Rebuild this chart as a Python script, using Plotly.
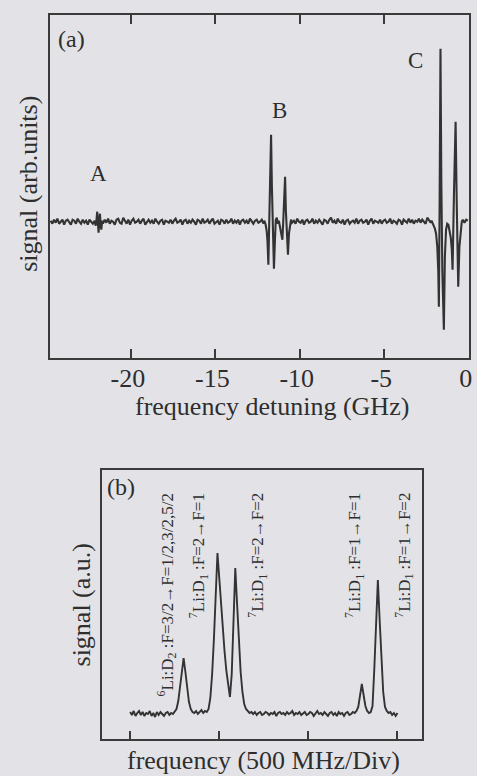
import numpy as np
import plotly.graph_objects as go

# ---------------- Panel (a): frequency detuning (GHz) vs signal (arb. units) ----------------
# baseline segments (0.1 GHz sampling)
a_seg1_x0, a_seg1_y = -24.75, [0.1,-0.2,0.2,-0.1,0.3,-0.2,0.0,0.2,-0.3,0.1,0.2,-0.1,-0.3,0.2,0.1,-0.2,0.3,0.0,-0.2,0.2,-0.1,0.1,-0.3,0.2,0.0,-0.2]
# feature A
a_A_x = [-22.15,-22.08,-22.03,-21.99,-21.95,-21.91,-21.87,-21.83,-21.79,-21.75,-21.70,-21.65]
a_A_y = [0.1,-0.4,0.3,1.0,-0.2,-1.1,0.2,0.8,-0.3,-0.8,0.1,-0.2]
a_seg2_x0, a_seg2_y = -21.55, [
    0.2,-0.1,0.3,-0.2,0.1,0.0,-0.3,0.2,0.3,-0.1,
    -0.2,0.4,0.1,-0.2,0.2,-0.3,0.1,0.3,-0.1,0.0,
    0.2,-0.2,0.1,0.3,-0.3,0.0,0.2,-0.1,0.1,-0.2,
    0.3,0.0,-0.2,0.1,0.2,-0.3,0.1,0.0,-0.1,0.2,
    -0.2,0.1,0.3,-0.1,0.0,0.2,-0.3,0.1,0.2,-0.2,
    0.1,-0.1,0.2,0.0,-0.3,0.2,0.1,-0.2,0.3,-0.1,
    0.0,0.2,-0.2,0.1,0.3,-0.2,0.0,0.1,-0.3,0.2,
    0.1,-0.2,0.2,-0.1,0.0,0.3,-0.2,0.1,-0.1,0.2,
    -0.3,0.1,0.2,-0.1,0.1,-0.2,0.3,0.0,-0.2,0.1,
    0.2,-0.1,0.0,0.2,-0.2]
# feature B
a_B_x = [-12.10,-12.02,-11.96,-11.91,-11.86,-11.80,-11.75,-11.70,-11.65,-11.59,-11.53,-11.47,-11.42,-11.36,-11.30,
         -11.24,-11.18,-11.12,-11.07,-11.03,-10.98,-10.92,-10.87,-10.82,-10.76,-10.70,-10.64,-10.58,-10.52,-10.46]
a_B_y = [0.1,-0.3,-0.9,-2.0,-4.3,0.5,5.0,8.7,3.5,-1.5,-4.7,-1.8,0.2,0.4,-0.2,
         0.1,-0.4,-0.9,-1.5,-1.8,0.0,3.0,4.5,1.0,-1.8,-3.3,-1.2,-0.2,0.2,-0.1]
a_seg3_x0, a_seg3_y = -10.35, [
    0.1,-0.2,0.3,0.0,-0.1,0.2,-0.3,0.1,0.2,-0.1,
    0.0,0.3,-0.2,0.1,-0.1,0.2,0.0,-0.3,0.2,0.1,
    -0.2,0.2,0.4,-0.1,0.1,-0.2,0.3,0.0,-0.1,0.2,
    -0.3,0.1,0.2,-0.2,0.0,0.1,-0.1,0.3,-0.2,0.1,
    0.2,-0.1,0.0,0.2,-0.3,0.1,0.3,-0.2,0.1,0.0,
    -0.1,0.2,-0.2,0.1,0.2,-0.1,0.0,0.3,-0.2,0.1,
    0.0,-0.2,0.2,0.1,-0.3,0.2,0.0,-0.1,0.3,-0.1,
    0.2,-0.2,0.1,0.0,0.3,-0.1,0.2,0.0,-0.2,0.4,
    0.1,-0.1]
# feature C
a_C_x = [-2.20,-2.10,-2.00,-1.93,-1.86,-1.80,-1.765,-1.72,-1.67,-1.62,-1.56,-1.47,-1.41,-1.34,-1.27,
         -1.20,-1.13,-1.06,-1.00,-0.955,-0.87,-0.775,-0.71,-0.62,-0.55,-0.48,-0.41]
a_C_y = [0.1,-0.3,-0.7,-1.2,-2.5,-5.0,-8.5,2.0,17.3,4.0,-5.0,-10.8,-3.5,-0.8,-0.2,
         -0.3,-0.8,-1.6,-2.8,-4.8,3.0,10.0,2.0,-6.5,-2.5,-0.7,0.0]
a_tail_x = [-0.35,-0.25,-0.15,-0.05]
a_tail_y = [0.2,-0.1,0.2,0.1]

a_ticks = [-20, -15, -10, -5, 0]
a_ticktext = ["-20", "-15", "-10", "-5", "0"]

# ---------------- Panel (b): frequency (500 MHz/Div) vs signal (a.u.) ----------------
b_x = np.round(np.linspace(0.0, 3.0, 151), 2)
b_y = [0.2,-0.1,0.3,-0.2,0.1,0.3,-0.1,0.2,-0.2,0.1,0.0,0.3,-0.2,0.1,-0.3,0.2,-0.1,0.2,0.0,-0.2,0.1,0.2,-0.1,0.1,0.0,
       0.2,0.5,1.3,2.6,4.3,5.6,4.2,2.5,1.2,0.5,0.2,
       0.1,0.3,0.0,0.2,0.4,0.1,0.3,0.2,
       0.5,1.6,4.0,7.5,11.5,16.1,13.6,11.0,8.5,6.2,4.3,2.7,1.7,4.0,9.5,14.6,11.0,7.2,4.2,2.2,1.0,0.5,0.3,0.1,0.2,
       0.0,0.2,-0.1,0.1,0.2,-0.1,0.0,0.2,0.1,-0.1,
       0.1,0.0,0.2,-0.2,0.1,0.2,0.0,0.1,-0.1,0.2,
       0.0,0.1,0.3,-0.1,0.1,0.0,0.2,-0.1,0.1,0.2,
       -0.1,0.0,0.2,0.1,-0.2,0.1,0.3,0.0,0.1,-0.1,
       0.2,0.0,-0.2,0.1,0.2,-0.1,0.1,-0.2,0.2,0.0,
       0.1,-0.2,0.1,0.2,-0.1,0.0,0.2,0.1,
       0.3,0.7,1.8,3.0,1.9,0.8,0.3,0.1,0.2,0.8,4.5,9.4,13.4,9.4,5.8,2.2,0.7,0.3,0.1,0.2,-0.1,0.1,-0.2,0.1]
b_ticks = [0, 1, 2, 3]
b_labels = ["<sup>6</sup>Li:D<sub>2</sub> :F=3/2→F=1/2,3/2,5/2",
            "<sup>7</sup>Li:D<sub>1</sub> :F=2→F=1",
            "<sup>7</sup>Li:D<sub>1</sub> :F=2→F=2",
            "<sup>7</sup>Li:D<sub>1</sub> :F=1→F=1",
            "<sup>7</sup>Li:D<sub>1</sub> :F=1→F=2"]
b_label_x = [0.413, 0.769, 1.427, 2.517, 3.075]

# assemble panel (a) trace from segments
def seg(x0, ys):
    return list(np.round(x0 + 0.1 * np.arange(len(ys)), 3)), list(ys)

s1x, s1y = seg(a_seg1_x0, a_seg1_y)
s2x, s2y = seg(a_seg2_x0, a_seg2_y)
s3x, s3y = seg(a_seg3_x0, a_seg3_y)
ax = s1x + a_A_x + s2x + a_B_x + s3x + a_C_x + a_tail_x
ay = s1y + a_A_y + s2y + a_B_y + s3y + a_C_y + a_tail_y

W, H = 477, 776
BG = "#e3e3e7"
INK = "#2e2e2e"
FONT = "Liberation Serif"

def px(x):
    return x / W

def py(y):
    return 1 - y / H

fig = go.Figure()
fig.add_trace(go.Scatter(x=ax, y=ay, mode="lines", line=dict(color="#333333", width=2.1),
                         xaxis="x", yaxis="y", showlegend=False))
fig.add_trace(go.Scatter(x=b_x, y=b_y, mode="lines", line=dict(color="#333333", width=1.9),
                         xaxis="x2", yaxis="y2", showlegend=False))

axis_common = dict(showgrid=False, zeroline=False, showline=True, linecolor="#3a3a3a", linewidth=1.5)

fig.update_layout(
    width=W, height=H, margin=dict(l=0, r=0, t=0, b=0),
    paper_bgcolor=BG, plot_bgcolor=BG,
    font=dict(family=FONT, color=INK),
    xaxis=dict(domain=[px(50), px(472)], range=[-24.806, 0.02], anchor="y",
               tickvals=a_ticks, ticktext=a_ticktext, ticks="inside", ticklen=9, tickwidth=1.5,
               tickcolor="#3a3a3a", mirror="ticks", tickfont=dict(size=26, family=FONT, color=INK),
               ticklabelstandoff=-4, ticklabelshift=-3, **axis_common),
    yaxis=dict(domain=[py(358), py(15)], range=[-13.63, 20.67], anchor="x",
               showticklabels=False, ticks="", mirror=True, **axis_common),
    xaxis2=dict(domain=[px(103), px(425)], range=[-0.312, 3.279], anchor="y2",
                tickvals=b_ticks, ticks="inside", ticklen=8, tickwidth=1.5, tickcolor="#3a3a3a",
                showticklabels=False, mirror=True, **axis_common),
    yaxis2=dict(domain=[py(739), py(470)], range=[-2.5, 24.4], anchor="x2",
                showticklabels=False, ticks="", mirror=True, **axis_common),
)

ann = []
def text(x, y, s, size, angle=0, xanchor="center", yanchor="middle", xref="paper", yref="paper"):
    ann.append(dict(x=x, y=y, xref=xref, yref=yref, text=s, showarrow=False, textangle=angle,
                    xanchor=xanchor, yanchor=yanchor, font=dict(size=size, family=FONT, color=INK)))

# panel (a) texts
text(px(274), py(406), "frequency detuning (GHz)", 26)
text(px(28), py(184), "signal (arb.units)", 26, angle=-90)
text(px(72), py(39), "(a)", 24)
text(px(99), py(174), "A", 23)
text(px(281), py(111), "B", 23)
text(px(418), py(61), "C", 23)
# panel (b) texts
text(px(265), py(760), "frequency (500 MHz/Div)", 26)
text(px(82), py(605), "signal (a.u.)", 26, angle=-90)
text(px(122), py(487), "(b)", 24)
for lx, lab in zip(b_label_x, b_labels):
    text(lx, py(491), lab, 17, angle=-90, yanchor="top", xref="x2")

fig.update_layout(annotations=ann)
fig.write_html("out.html", config={"displayModeBar": False},
               post_script="document.body.style.margin='0';document.body.style.overflow='hidden';")
